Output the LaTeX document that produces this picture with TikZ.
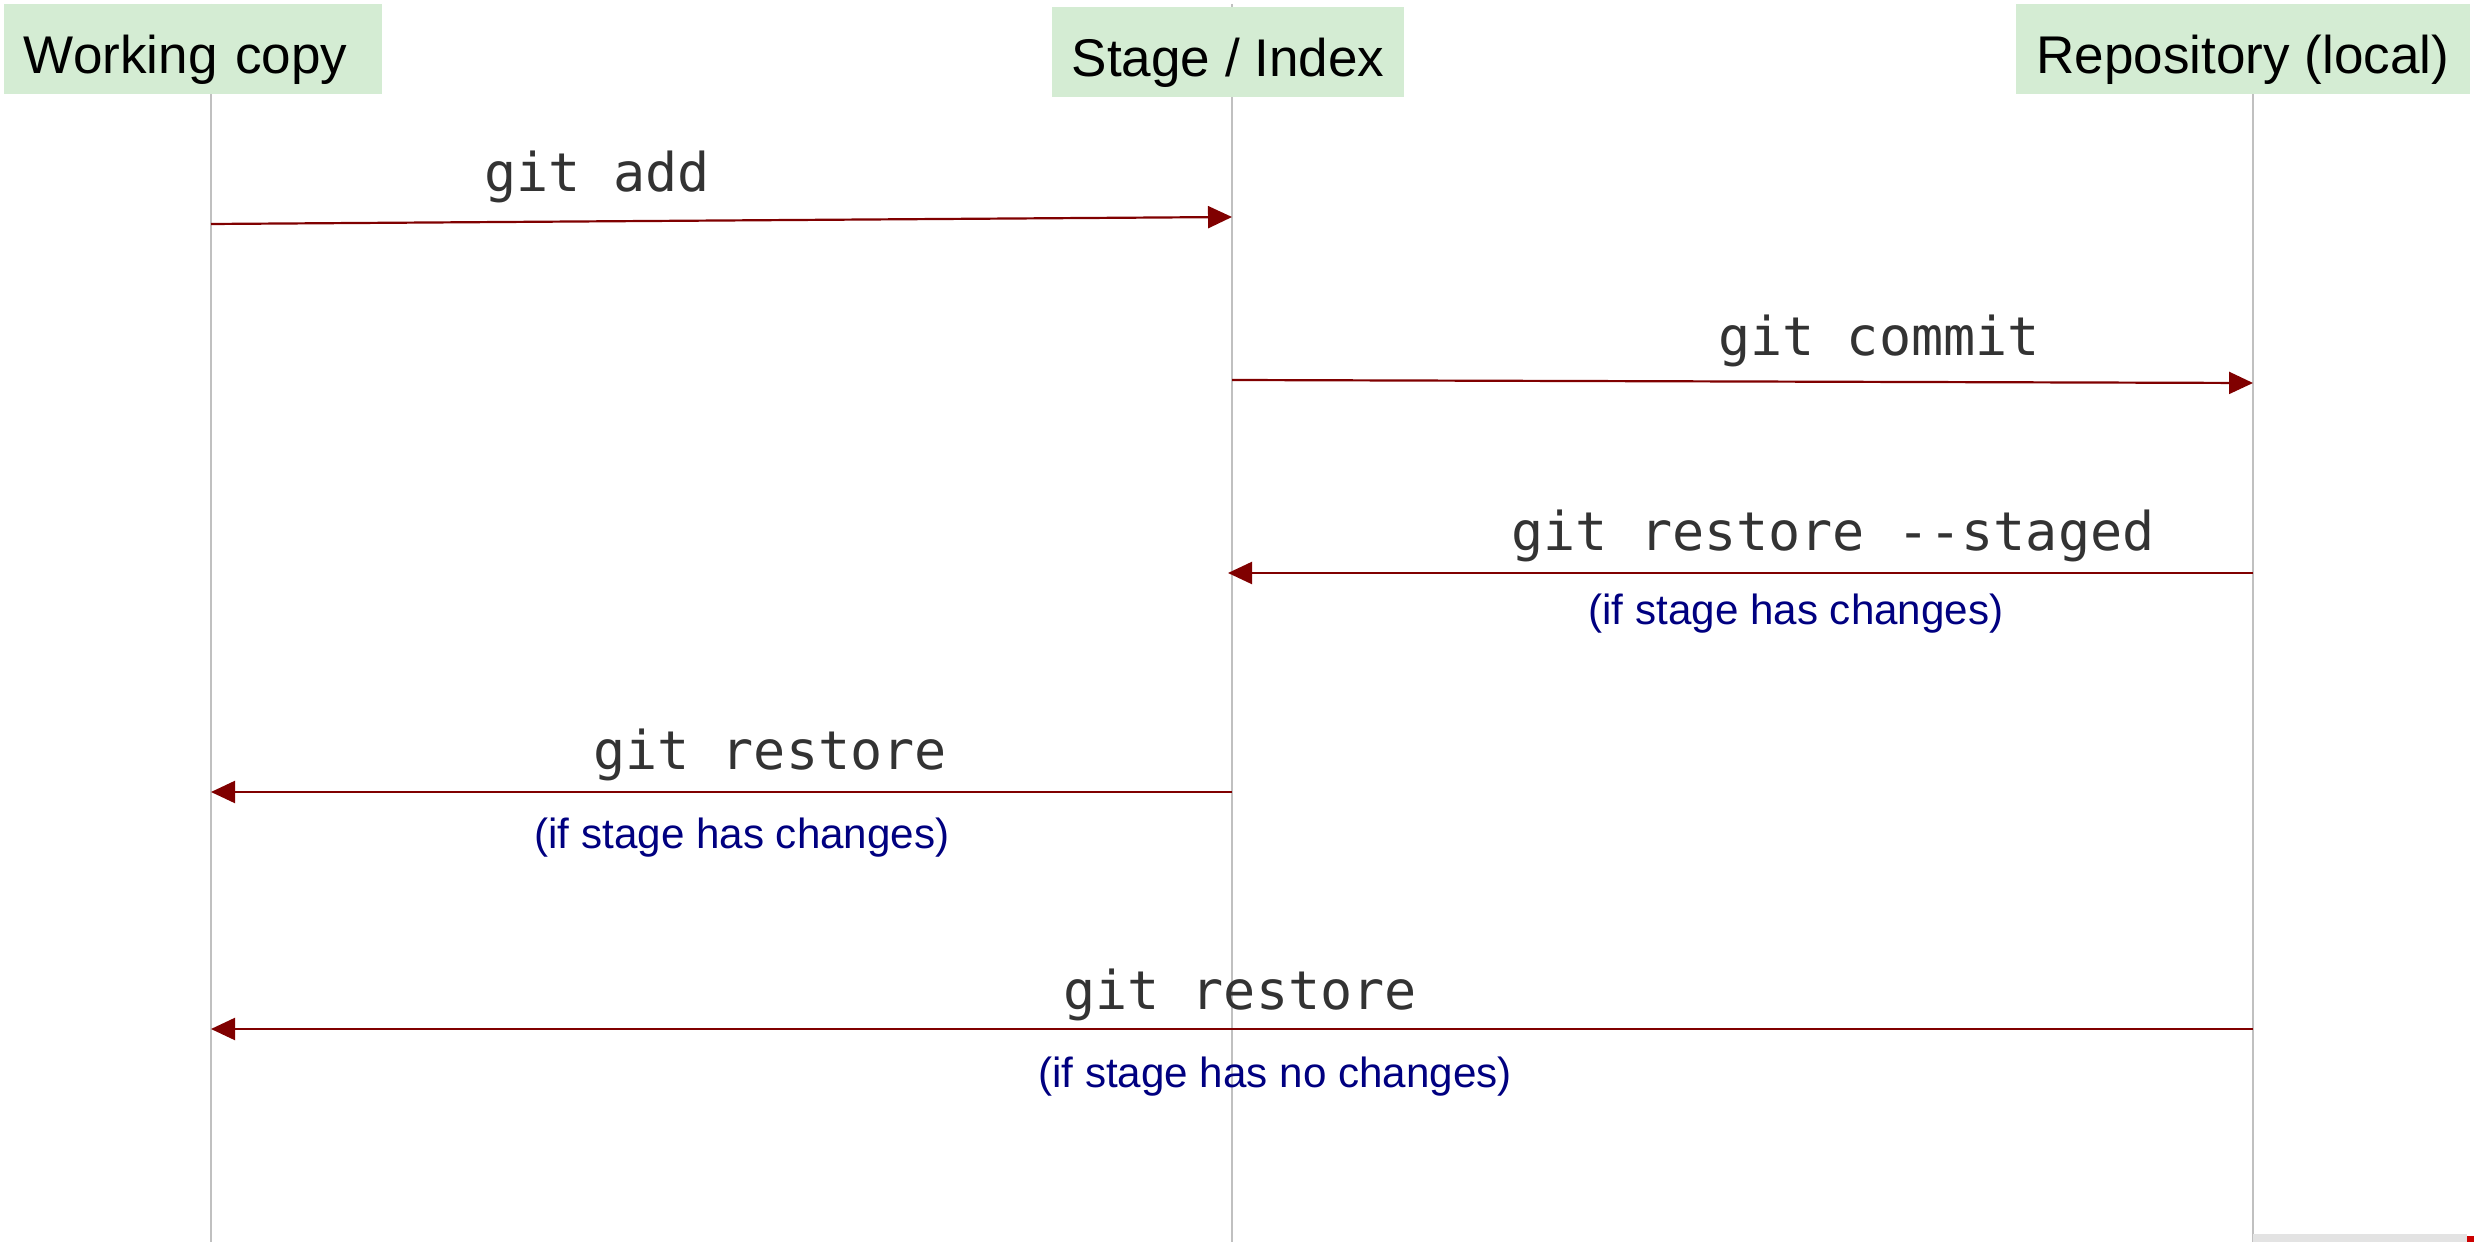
\documentclass[tikz,border=0pt]{standalone}
\usepackage{fontspec}
\setmainfont{Liberation Sans}
\newfontfamily\gitmono{DejaVu Sans Mono}
\usetikzlibrary{arrows.meta,backgrounds}
\definecolor{hdrgreen}{RGB}{212,236,211}
\definecolor{lifegray}{RGB}{192,192,192}
\definecolor{msgred}{RGB}{128,0,0}
\definecolor{cmdgray}{RGB}{51,51,51}
\definecolor{notenavy}{RGB}{0,0,128}
\tikzset{
  hdr/.style  = {rectangle, fill=hdrgreen, inner sep=0pt, minimum height=9mm,
                 text height=6mm, text depth=1mm, font=\fontsize{15.1}{18}\selectfont},
  cmd/.style  = {anchor=base, inner sep=0pt, text=cmdgray,
                 font=\gitmono\fontsize{15.2}{18}\selectfont},
  note/.style = {anchor=base, inner sep=0pt, text=notenavy,
                 font=\fontsize{12}{14}\selectfont},
  life/.style = {draw=lifegray, line width=0.2mm},
  msg/.style  = {-{Triangle[length=2.4mm,width=2.2mm]}, draw=msgred, line width=0.22mm},
}
\begin{document}
\begin{tikzpicture}

      \useasboundingbox (0,0) rectangle (24.74,-12.42);

      % lifelines
      \foreach \n/\x in {wc/2.11, st/12.32, rp/22.53} {
        \coordinate (\n-top) at (\x,-0.04);
        \coordinate (\n-bot) at (\x,-12.42);
        \draw[life] (\n-top) -- (\n-bot);
      }

      \node[hdr, minimum width=37.8mm, text width=33.8mm, align=left] (wc) at (1.93,-0.49) {Working copy};
      \node[hdr, minimum width=35.2mm] (st) at (12.28,-0.52) {Stage / Index};
      \node[hdr, minimum width=45.4mm] (rp) at (22.43,-0.49) {Repository (local)};

      % messages
      \coordinate (add-a) at (2.11,-2.24);   \coordinate (add-b) at (12.32,-2.17);
      \coordinate (com-a) at (12.32,-3.80);  \coordinate (com-b) at (22.53,-3.83);
      \coordinate (stg-a) at (22.53,-5.73);  \coordinate (stg-b) at (12.28,-5.73);
      \coordinate (rs1-a) at (12.32,-7.92);  \coordinate (rs1-b) at (2.11,-7.92);
      \coordinate (rs2-a) at (22.53,-10.29); \coordinate (rs2-b) at (2.11,-10.29);

      \draw[msg] (add-a) -- (add-b);
      \draw[msg] (com-a) -- (com-b);
      \draw[msg] (stg-a) -- (stg-b);
      \draw[msg] (rs1-a) -- (rs1-b);
      \draw[msg] (rs2-a) -- (rs2-b);

      \node[cmd] (add) at (5.97,-1.92) {git add};
      \node[cmd] (com) at (18.79,-3.56) {git commit};
      \node[cmd] (stg) at (18.33,-5.51) {git restore --staged};
      \node[note] (stgnote) at (17.96,-6.25) {(if stage has changes)};
      \node[cmd] (rs1) at (7.70,-7.70) {git restore};
      \node[note] (rs1note) at (7.42,-8.48) {(if stage has changes)};
      \node[cmd] (rs2) at (12.40,-10.09) {git restore};
      \node[note] (rs2note) at (12.75,-10.87) {(if stage has no changes)};

      % cut-off strip at the lower right edge
      \fill[gray!22] (22.53,-12.34) rectangle (24.67,-12.42);
      \fill[red!80!black] (24.67,-12.36) rectangle (24.74,-12.42);

    \end{tikzpicture}
\end{document}
